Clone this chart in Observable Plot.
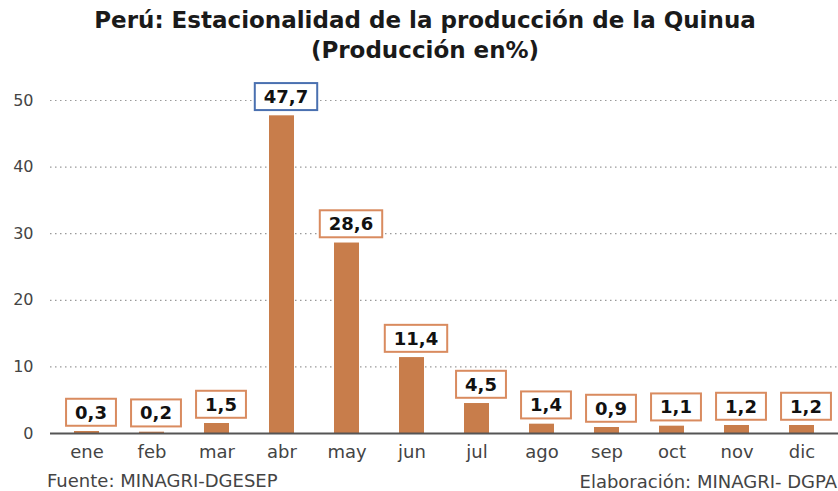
<!DOCTYPE html>
<html>
<head>
<meta charset="utf-8">
<script src="https://cdn.jsdelivr.net/npm/d3@7"></script>
<script src="https://cdn.jsdelivr.net/npm/@observablehq/plot@0.6"></script>
<style>
  html, body { margin: 0; padding: 0; background: #fff; }
  body { width: 838px; height: 491px; overflow: hidden; font-family: "DejaVu Sans", sans-serif; }
  #title { height: 70px; text-align: center; font-weight: bold; font-size: 23px; color: #1a1a1a; line-height: 30px; padding-top: 5px; box-sizing: border-box; padding-left: 12px; }
  #footer { position: relative; height: 23px; font-size: 18px; line-height: 18px; color: #444; }
  #footer .l { position: absolute; left: 47px; top: 4px; }
  #footer .r { position: absolute; right: 1px; top: 5px; }
</style>
</head>
<body>
<div id="title">Perú: Estacionalidad de la producción de la Quinua<br>(Producción en%)</div>
<div id="chart"></div>
<div id="footer"><span class="l">Fuente: MINAGRI-DGESEP</span><span class="r">Elaboración: MINAGRI- DGPA</span></div>
<script>
const months = ["ene","feb","mar","abr","may","jun","jul","ago","sep","oct","nov","dic"];
const values = [0.3, 0.2, 1.5, 47.7, 28.6, 11.4, 4.5, 1.4, 0.9, 1.1, 1.2, 1.2];
const yTicks = [0, 10, 20, 30, 40, 50];

const data = months.map((m, i) => ({month: m, value: values[i]}));
const fmt = v => v.toFixed(1).replace(".", ",");
const maxV = d3.max(values);

const chart = Plot.plot({
  width: 838,
  height: 398,
  marginLeft: 50,
  marginRight: 0,
  marginTop: 30,
  marginBottom: 35,
  style: {fontFamily: "DejaVu Sans, sans-serif", background: "#fff"},
  x: {domain: months, paddingInner: 0.62, paddingOuter: 0.31, label: null},
  y: {domain: [0, 50], label: null},
  marks: [
    Plot.gridY(yTicks.filter(t => t > 0), {stroke: "#999", strokeOpacity: 1, strokeDasharray: "1.5,3.5", strokeWidth: 1.2}),
    Plot.axisY(yTicks, {tickSize: 0, tickPadding: 17, fontSize: 16, fill: "#444", label: null}),
    Plot.axisX({tickSize: 0, tickPadding: 12, fontSize: 18, fill: "#444", label: null}),
    Plot.barY(data, {x: "month", y: "value", fill: "#c87d4b"}),
    Plot.ruleY([0], {stroke: "#555", strokeWidth: 2}),
    Plot.text(data, {x: "month", y: "value", text: d => fmt(d.value), dx: 4, dy: -18.5, fontSize: 18, fontWeight: "bold", fill: "#111", className: "vlabels"})
  ]
});
document.getElementById("chart").appendChild(chart);

// draw boxes behind each value label, sized from the rendered text
const g = chart.querySelector(".vlabels");
const texts = Array.from(g.querySelectorAll("text"));
texts.forEach((t, i) => {
  const b = t.getBBox();
  const ctm = t.getAttribute("transform");
  const r = document.createElementNS("http://www.w3.org/2000/svg", "rect");
  const h = 27;
  const cy = b.y + b.height / 2;
  r.setAttribute("x", b.x - 9);
  r.setAttribute("y", cy - h / 2);
  r.setAttribute("width", b.width + 18);
  r.setAttribute("height", h);
  r.setAttribute("fill", "#fff");
  r.setAttribute("stroke", values[i] === maxV ? "#4a70b0" : "#d98b5f");
  r.setAttribute("stroke-width", 2);
  if (ctm) r.setAttribute("transform", ctm);
  g.insertBefore(r, t);
});
</script>
</body>
</html>
